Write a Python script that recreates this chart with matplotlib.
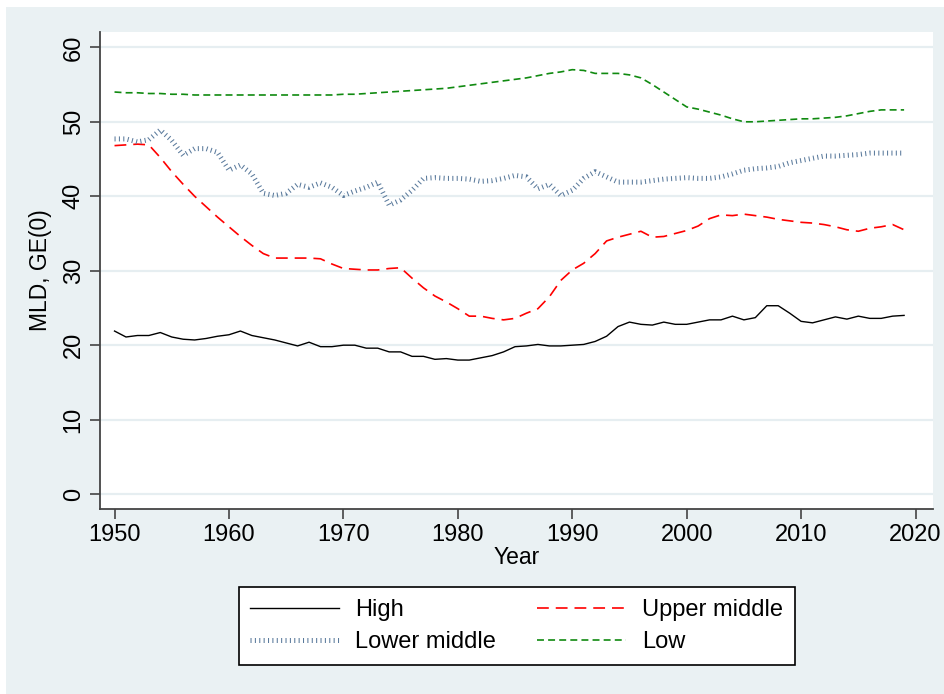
import matplotlib
matplotlib.use("Agg")
import matplotlib.pyplot as plt
from matplotlib.patches import Rectangle
import numpy as np

plt.rcParams['font.family'] = ['Liberation Sans', 'DejaVu Sans']
plt.rcParams['lines.scale_dashes'] = False

years = list(range(1950, 2020))

high = [21.9, 21.1, 21.3, 21.3, 21.7, 21.1, 20.8, 20.7, 20.9, 21.2,
        21.4, 21.9, 21.3, 21.0, 20.7, 20.3, 19.9, 20.4, 19.8, 19.8,
        20.0, 20.0, 19.6, 19.6, 19.1, 19.1, 18.5, 18.5, 18.1, 18.2,
        18.0, 18.0, 18.3, 18.6, 19.1, 19.8, 19.9, 20.1, 19.9, 19.9,
        20.0, 20.1, 20.5, 21.2, 22.5, 23.1, 22.8, 22.7, 23.1, 22.8,
        22.8, 23.1, 23.4, 23.4, 23.9, 23.4, 23.7, 25.3, 25.3, 24.3,
        23.2, 23.0, 23.4, 23.8, 23.5, 23.9, 23.6, 23.6, 23.9, 24.0]

upper_middle = [46.8, 46.9, 47.0, 46.9, 45.2, 43.3, 41.6, 40.0, 38.6, 37.2,
                35.9, 34.6, 33.4, 32.3, 31.7, 31.7, 31.7, 31.7, 31.6, 30.9,
                30.3, 30.2, 30.1, 30.1, 30.3, 30.4, 29.0, 27.7, 26.6, 25.8,
                24.9, 23.9, 23.9, 23.6, 23.4, 23.6, 24.3, 24.9, 26.5, 28.7,
                30.1, 31.0, 32.3, 34.0, 34.5, 34.9, 35.3, 34.5, 34.6, 35.0,
                35.4, 36.0, 37.0, 37.5, 37.4, 37.6, 37.4, 37.2, 36.9, 36.7,
                36.5, 36.4, 36.2, 35.9, 35.5, 35.3, 35.7, 35.9, 36.2, 35.5]

lower_middle = [47.7, 47.7, 47.3, 47.6, 48.9, 47.5, 45.5, 46.4, 46.4, 45.9,
                43.5, 44.2, 43.0, 40.4, 40.1, 40.4, 41.6, 41.2, 41.8, 41.2,
                40.1, 40.7, 41.2, 41.9, 38.8, 39.5, 40.8, 42.4, 42.5, 42.4,
                42.4, 42.3, 42.0, 42.1, 42.4, 42.8, 42.6, 41.0, 41.6, 40.1,
                40.8, 42.4, 43.3, 42.6, 41.9, 41.9, 41.9, 42.1, 42.3, 42.4,
                42.5, 42.4, 42.4, 42.6, 43.0, 43.5, 43.7, 43.8, 44.0, 44.5,
                44.8, 45.1, 45.4, 45.4, 45.5, 45.6, 45.8, 45.8, 45.8, 45.8]

low = [54.0, 53.9, 53.9, 53.8, 53.8, 53.7, 53.7, 53.6, 53.6, 53.6,
       53.6, 53.6, 53.6, 53.6, 53.6, 53.6, 53.6, 53.6, 53.6, 53.6,
       53.7, 53.7, 53.8, 53.9, 54.0, 54.1, 54.2, 54.3, 54.4, 54.5,
       54.7, 54.9, 55.1, 55.3, 55.5, 55.7, 55.9, 56.2, 56.5, 56.7,
       57.0, 56.9, 56.5, 56.5, 56.5, 56.3, 55.9, 55.0, 54.0, 53.0,
       52.0, 51.7, 51.3, 50.9, 50.4, 50.0, 50.0, 50.1, 50.2, 50.3,
       50.4, 50.4, 50.5, 50.6, 50.8, 51.1, 51.4, 51.6, 51.6, 51.6]

labels = ["High", "Upper middle", "Lower middle", "Low"]
xticks = [1950, 1960, 1970, 1980, 1990, 2000, 2010, 2020]
yticks = [0, 10, 20, 30, 40, 50, 60]

W, H = 945, 694
fig = plt.figure(figsize=(W / 100, H / 100), dpi=100, facecolor='white')
bg = '#EAF1F3'
fig.patches.append(Rectangle((6 / W, 0), 1 - 6 / W, 1 - 7 / H, transform=fig.transFigure,
                             facecolor=bg, edgecolor='none', zorder=-10))

ax = fig.add_axes([100 / W, 1 - 509 / H, (932.7 - 100) / W, (509 - 31.7) / H])
ax.set_facecolor('white')

for y in yticks:
    ax.axhline(y, color='#E6EEF1', lw=1.6, zorder=0)

l_high, = ax.plot(years, high, color='black', lw=1.0, label=labels[0])
l_um, = ax.plot(years, upper_middle, color='#FF0000', lw=1.2,
                linestyle=(0, (8.5, 5.0)), label=labels[1])
l_lm, = ax.plot(years, lower_middle, color='#5A7A9C', lw=3.6,
                linestyle=(0, (0.75, 2.4)), dash_capstyle='butt', label=labels[2])
l_low, = ax.plot(years, low, color='#108A10', lw=1.2,
                 linestyle=(0, (5.0, 3.0)), label=labels[3])

ax.set_xlim(1948.73, 2021.5)
ax.set_ylim(-2.0, 62.1)
ax.set_xticks(xticks)
ax.set_yticks(yticks)
ax.set_xticklabels([str(x) for x in xticks], fontsize=17)
ax.set_yticklabels([str(y) for y in yticks], fontsize=17, rotation=90, va='center')

for s in ['top', 'right']:
    ax.spines[s].set_visible(False)
for s in ['left', 'bottom']:
    ax.spines[s].set_color('#444444')
    ax.spines[s].set_linewidth(1.3)
ax.tick_params(axis='both', direction='out', length=7, width=1.2, color='#444444', pad=4)

ax.set_xlabel('Year', fontsize=16.5, labelpad=0)
ax.set_ylabel('MLD, GE(0)', fontsize=16.5, labelpad=8)

leg = fig.legend([l_high, l_lm, l_um, l_low],
                 [labels[0], labels[2], labels[1], labels[3]],
                 ncol=2, loc='upper center', bbox_to_anchor=(516.5 / W, 1 - 587 / H),
                 borderaxespad=0,
                 fontsize=17, frameon=True, fancybox=False, framealpha=1,
                 edgecolor='black', handlelength=3.75, handletextpad=0.68,
                 columnspacing=1.75, borderpad=0.5, labelspacing=0.45)
leg.get_frame().set_linewidth(1.2)

fig.savefig('out.png', dpi=100, facecolor=fig.get_facecolor())
